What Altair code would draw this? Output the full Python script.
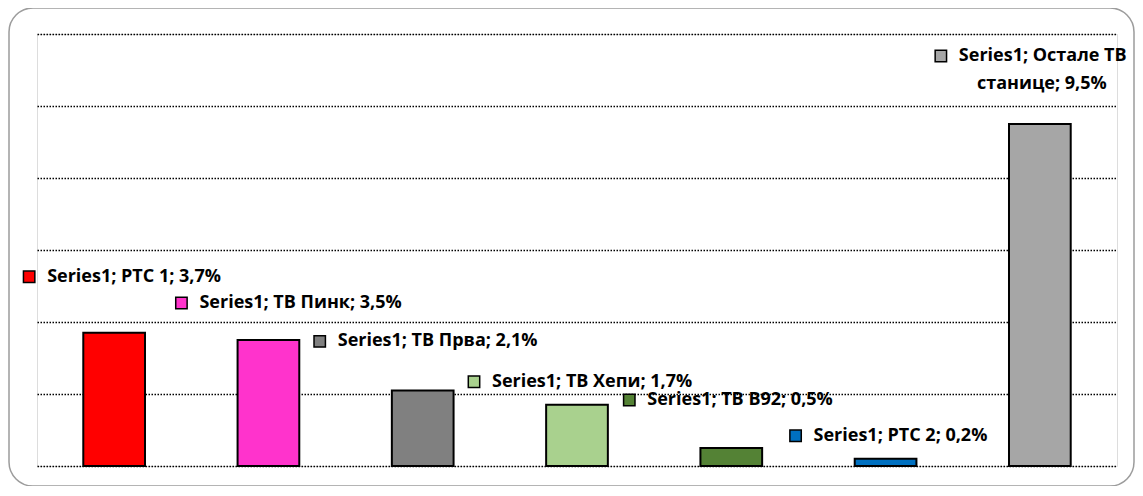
import altair as alt
import pandas as pd

# ---- data ----
series_name = "Series1"
channels = ["РТС 1", "ТВ Пинк", "ТВ Прва", "ТВ Хепи", "ТВ B92", "РТС 2", "Остале ТВ станице"]
shares = [3.7, 3.5, 2.1, 1.7, 0.5, 0.2, 9.5]
colors = ["#FF0000", "#FF33CC", "#808080", "#A9D18E", "#548235", "#0070C0", "#A6A6A6"]
y_ticks = [0, 2, 4, 6, 8, 10, 12]

# ---- label layout (pixel offsets of legend-key square from bar centre / bar top) ----
label_offsets = [(-85, -56), (-87, -37), (-103, -49), (-103, -23), (-102, -48), (-90, -23), (-99, -68)]
text_gap = 18
font = "Open Sans"
fsize = 18

df = pd.DataFrame({"channel": channels, "share": shares})

W, H = 1080, 432

x_enc = alt.X("channel:N", sort=channels,
              scale=alt.Scale(domain=channels, paddingInner=0.6, paddingOuter=0.3), axis=None)
y_enc = alt.Y("share:Q", scale=alt.Scale(domain=[0, 12], nice=False),
              axis=alt.Axis(values=y_ticks, grid=True, gridDash=[1.5, 1.5], gridColor="black",
                            gridWidth=1.6, labels=False, ticks=False, domain=False, title=None))

base = alt.Chart(df).encode(x=x_enc, y=y_enc)

frame = alt.Chart(pd.DataFrame({"k": [0]})).mark_rect(
    fill="white", fillOpacity=0, stroke="#9C9C9C", strokeWidth=1.5, cornerRadius=24
).encode(x=alt.value(-28), x2=alt.value(1097), y=alt.value(-26), y2=alt.value(452))

bars = base.mark_bar(stroke="black", strokeWidth=2).encode(
    color=alt.Color("channel:N", scale=alt.Scale(domain=channels, range=colors), legend=None)
)

layers = [frame, bars]


def fmt(v):
    return f"{v:.1f}".replace(".", ",") + "%"


def txt(sub, text, ox, oy, align="left"):
    return sub.mark_text(text=text, align=align, baseline="middle", font=font,
                         fontSize=fsize, fontWeight="bold", color="black",
                         xOffset=ox, yOffset=oy)


for ch, v, col, (ox, oy) in zip(channels, shares, colors, label_offsets):
    sub = base.transform_filter(alt.datum.channel == ch)
    layers.append(sub.mark_square(size=130, filled=True, color=col, stroke="black",
                                  strokeWidth=1.5, xOffset=ox, yOffset=oy, opacity=1))
    if ch == "Остале ТВ станице":
        layers.append(txt(sub, f"{series_name}; Остале ТВ", ox + text_gap, oy))
        layers.append(txt(sub, f"станице; {fmt(v)}", ox + text_gap + 83, oy + 28, "center"))
    else:
        layers.append(txt(sub, f"{series_name}; {ch}; {fmt(v)}", ox + text_gap, oy))

chart = alt.layer(*layers).properties(
    width=W, height=H,
    autosize=alt.AutoSizeParams(type="none"),
    padding={"left": 29, "top": 26, "right": 18, "bottom": 20},
).configure_view(stroke=None).configure(background="white")

chart.save("out.html", embed_options={"renderer": "svg", "actions": False})
